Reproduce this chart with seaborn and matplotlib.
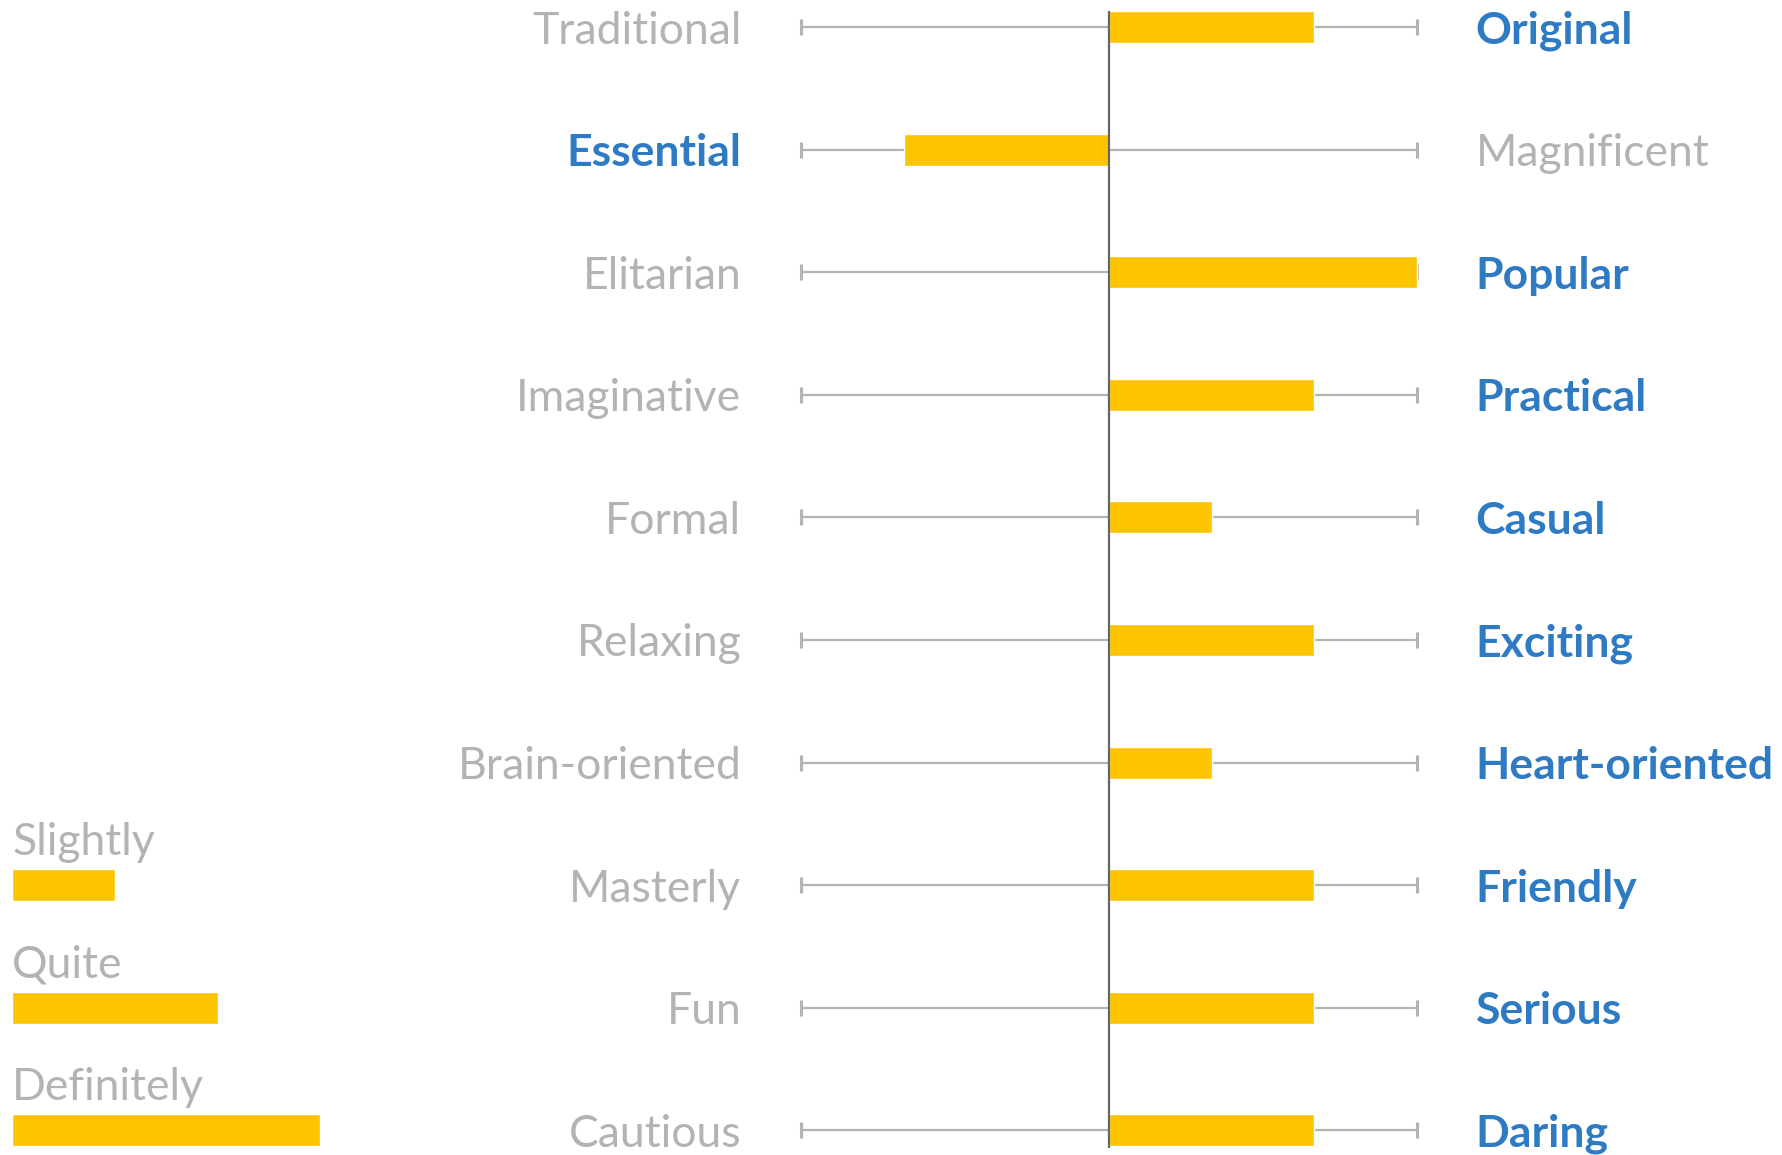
import matplotlib
matplotlib.use("Agg")
import matplotlib.pyplot as plt
import seaborn as sns
import pandas as pd

# Semantic differential: left pole, right pole, and score (-3..3)
left_terms = ["Traditional", "Essential", "Elitarian", "Imaginative", "Formal",
              "Relaxing", "Brain-oriented", "Masterly", "Fun", "Cautious"]
right_terms = ["Original", "Magnificent", "Popular", "Practical", "Casual",
               "Exciting", "Heart-oriented", "Friendly", "Serious", "Daring"]
scores = [2, -2, 3, 2, 1, 2, 1, 2, 2, 2]

legend_labels = ["Slightly", "Quite", "Definitely"]
legend_values = [1, 2, 3]

YELLOW = "#FCC500"
BLUE = "#2E7BC4"
GREY_TXT = "#B3B3B3"
GREY_LINE = "#B3B3B3"
AXIS_COL = "#666666"

sns.set_theme(style="white")
plt.rcParams["font.family"] = ["Lato", "DejaVu Sans"]

fig = plt.figure(figsize=(17.82, 11.55), dpi=100)
ax = fig.add_axes([0, 0, 1, 1])

df = pd.DataFrame({"pair": [f"{l}|{r}" for l, r in zip(left_terms, right_terms)],
                   "score": scores})

# range line with end caps for every pair
n = len(scores)
rows = list(range(n))
ax.hlines(rows, -3, 3, color=GREY_LINE, lw=1.6, zorder=1)
ax.plot([-3] * n, rows, ls="none", marker="|", ms=11, mew=2.2, color=GREY_LINE, zorder=1)
ax.plot([3] * n, rows, ls="none", marker="|", ms=11, mew=2.2, color=GREY_LINE, zorder=1)

BAR_H = 0.26
sns.barplot(data=df, x="score", y="pair", orient="h", color=YELLOW,
            width=BAR_H, saturation=1, ax=ax, zorder=2)

# neutral axis
ax.vlines(0, -0.13, 9.14, color=AXIS_COL, lw=1.6, zorder=3)

FS = 32
# pole labels: the favoured side is highlighted
for i, (l, r, s) in enumerate(zip(left_terms, right_terms, scores)):
    left_hi = s < 0
    ax.text(-3.58, i, l, ha="right", va="center_baseline", fontsize=FS,
            color=BLUE if left_hi else GREY_TXT,
            fontweight="bold" if left_hi else "normal")
    ax.text(3.57, i, r, ha="left", va="center_baseline", fontsize=FS,
            color=GREY_TXT if left_hi else BLUE,
            fontweight="normal" if left_hi else "bold")

# intensity key
key_x = -10.68
key_rows = [7, 8, 9]
ax.barh(key_rows, legend_values, left=key_x, height=BAR_H, color=YELLOW, zorder=2)
for y, lab in zip(key_rows, legend_labels):
    ax.text(key_x, y - 0.38, lab, ha="left", va="center_baseline", fontsize=FS,
            color=GREY_TXT, fontweight="normal")

ax.set_xlim(-1109 / 102.7, (1782 - 1109) / 102.7)
ax.set_ylim((1155 - 27) / 122.6, -27 / 122.6)
ax.set_axis_off()

fig.savefig("out.png", dpi=100, facecolor="white")
